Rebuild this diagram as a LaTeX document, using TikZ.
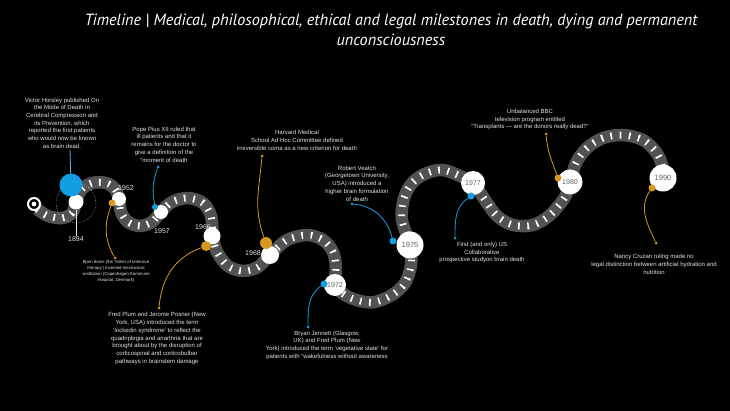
\documentclass[tikz,border=0pt]{standalone}
\usepackage{fontspec}
\setmainfont{Liberation Sans}
\newfontfamily\titlefont{PT Sans}
\usetikzlibrary{positioning}
\definecolor{MarkBlue}{RGB}{18,158,226}
\definecolor{MarkGold}{RGB}{214,152,30}
\definecolor{RoadGray}{RGB}{82,82,82}
\definecolor{NoteGray}{RGB}{228,228,228}
\definecolor{YearGray}{RGB}{96,96,96}
\tikzset{
  road/.style={line width=12.5pt,RoadGray,line join=round,
    postaction={draw=white,line width=7pt,dash pattern=on 1.7pt off 7.6pt}},
  yearcirc/.style={circle,fill=white,inner sep=0pt,text=YearGray,
    font=\fontsize{7}{8}\selectfont},
  yearlabel/.style={text=NoteGray,inner sep=0pt,font=\fontsize{7}{8}\selectfont},
  note/.style={text=NoteGray,align=center,inner sep=0pt,
    font=\fontsize{6}{7.7}\selectfont},
  bluedot/.style={circle,fill=MarkBlue,inner sep=0pt,minimum size=7pt},
  golddot/.style={circle,fill=MarkGold,inner sep=0pt,minimum size=7pt},
  bluetip/.style={circle,fill=MarkBlue,inner sep=0pt,minimum size=3pt},
  goldtip/.style={circle,fill=MarkGold,inner sep=0pt,minimum size=3pt},
  blueline/.style={MarkBlue,line width=0.8pt},
  goldline/.style={MarkGold,line width=0.8pt}
}
\begin{document}
\begin{tikzpicture}[x=1pt,y=1pt]
  \fill[black] (0,0) rectangle (730,-411);
  \useasboundingbox (0,0) rectangle (730,-411);

  \node[text=white,align=center,font=\titlefont\itshape\fontsize{16.2}{20}\selectfont]
    (title) at (391,-30) {Timeline | Medical, philosophical, ethical and legal milestones in death, dying and permanent\\unconsciousness};

  % the winding road
  \draw[road] plot[smooth,tension=0.55] coordinates {
    (37,-209) (48,-216) (62,-218) (72,-213) (76,-202) (81,-190) (92,-183)
    (106,-183) (115,-189) (119,-199) (121,-212) (128,-222) (140,-226)
    (152,-222) (161,-212) (172,-202) (188,-198) (203,-203) (211,-216)
    (213,-237) (217,-252) (228,-266) (243,-271) (258,-267) (270,-255)
    (287,-240) (307,-235) (323,-240) (333,-252) (336,-268) (335,-285)
    (345,-295) (360,-301) (375,-302) (392,-295) (405,-283) (411,-265)
    (410,-245) (402,-220) (404,-198) (413,-182) (427,-173) (443,-170)
    (460,-176) (473,-183) (485,-200) (497,-216) (513,-225) (533,-225)
    (550,-215) (565,-197) (570,-182) (576,-163) (587,-148) (603,-138)
    (623,-135) (643,-140) (656,-152) (662,-165) (663,-178)};

  % start marker
  \node[circle,draw=white,line width=2pt,fill=black,minimum size=12pt,inner sep=0pt]
    (start) at (34,-204) {};
  \fill[white] (start.center) circle (2.4);

  % years
  \draw[white!70!gray,line width=0.5pt,dash pattern=on 0.6pt off 1.6pt]
    (76,-203) circle (20);
  \node[yearcirc,minimum size=15pt] (y1894) at (76,-202) {};
  \node[yearcirc,minimum size=14pt] (y1952) at (119,-199) {};
  \node[yearcirc,minimum size=14pt] (y1957) at (161,-212) {};
  \node[yearcirc,minimum size=17pt] (y1966) at (212,-236) {};
  \node[yearcirc,minimum size=18pt] (y1968) at (270,-255) {};
  \node[yearcirc,minimum size=22pt] (y1972) at (335,-285) {1972};
  \node[yearcirc,minimum size=27pt,font=\fontsize{7.5}{8}\selectfont] (y1975) at (410,-245) {1975};
  \node[yearcirc,minimum size=24pt] (y1977) at (473,-183) {1977};
  \node[yearcirc,minimum size=25pt] (y1980) at (570,-182) {1980};
  \node[yearcirc,minimum size=27pt,font=\fontsize{7.5}{8}\selectfont] (y1990) at (663,-178) {1990};

  \node[yearlabel] (lab1894) at (76,-239) {1894};
  \node[yearlabel] (lab1952) at (126,-188) {1952};
  \node[yearlabel] (lab1957) at (162,-231) {1957};
  \node[yearlabel] (lab1966) at (203,-227) {1966};
  \node[yearlabel] (lab1968) at (253,-253) {1968};
  \draw[white!80!gray,line width=0.7pt] (y1894) -- (lab1894);

  % 1894
  \node[circle,fill=MarkBlue,inner sep=0pt,minimum size=23pt] (hors) at (71,-185) {};
  \node[note] (txtHors) at (62,-123) {Victor Horsley published On\\the Mode of Death in\\Cerebral Compression and\\its Prevention, which\\reported the first patients\\who would now be known\\as brain dead.};
  \coordinate (horsTop) at (70,-150);
  \draw[blueline,MarkBlue!70!white] (hors) -- (horsTop);

  % 1952
  \node[golddot] (d52) at (112,-203) {};
  \node[goldtip] (e52) at (115,-258) {};
  \node[note,font=\fontsize{4.3}{5.8}\selectfont] (txt52) at (116,-271.5)
    {Bjorn Ibsen (the `father of intensive\\therapy') invented mechanical\\ventilation (Copenhagen Kommune\\Hospital, Denmark)};
  \draw[goldline] (d52) to[out=250,in=120] (e52);

  % 1957
  \node[bluedot,minimum size=6pt] (d57) at (155,-207) {};
  \node[bluetip] (e57) at (158,-167) {};
  \node[note] (txt57) at (164,-144.5) {Pope Pius XII ruled that\\ill patients and that it\\remains for the doctor to\\give a definition of the\\``moment of death};
  \draw[blueline] (d57) to[out=100,in=250] (e57);

  % 1966
  \node[golddot,minimum size=10pt] (d66) at (206,-246) {};
  \node[goldtip] (e66) at (159,-308) {};
  \node[note] (txt66) at (157,-338.5) {Fred Plum and Jerome Posner (New\\York, USA) introduced the term\\`lockedin syndrome' to reflect the\\quadriplegia and anarthria that are\\brought about by the disruption of\\corticospinal and corticobulbar\\pathways in brainstem damage};
  \draw[goldline] (d66) to[out=200,in=85] (e66);

  % 1968
  \node[golddot,minimum size=12pt] (d68) at (266,-243) {};
  \node[goldtip] (e68) at (262,-156) {};
  \node[note] (txt68) at (297,-140.5) {Harvard Medical\\School Ad Hoc Committee defined\\irreversible coma as a new criterion for death};
  \draw[goldline] (d68) to[out=110,in=265] (e68);

  % 1972
  \node[bluedot] (d72) at (324,-284) {};
  \node[bluetip] (e72) at (308,-327) {};
  \node[note] (txt72) at (327,-345) {Bryan Jennett (Glasgow,\\UK) and Fred Plum (New\\York) introduced the term `vegetative state' for\\patients with ``wakefulness without awareness};
  \draw[blueline] (d72) to[out=215,in=90] (e72);

  % 1975
  \node[bluedot] (d75) at (393,-241) {};
  \node[bluetip] (e75) at (352,-204) {};
  \node[note] (txt75) at (357,-183.5) {Robert Veatch\\(Georgetown University,\\USA) introduced a\\higher brain formulation\\of death};
  \draw[blueline] (d75) to[out=105,in=-5] (e75);

  % 1977
  \node[bluedot] (d77) at (471,-196) {};
  \node[bluetip] (e77) at (455,-238) {};
  \node[note] (txt77) at (482,-252.5) {First (and only) US\\Collaborative\\prospective studyon brain death};
  \draw[blueline] (d77) to[out=215,in=90] (e77);

  % 1980
  \node[golddot] (d80) at (558,-178) {};
  \node[goldtip] (e80) at (546,-134) {};
  \node[note] (txt80) at (530,-119.5) {Unbalanced BBC\\television program entitled\\``Transplants --- are the donors really dead?''};
  \draw[goldline] (d80) to[out=110,in=275] (e80);

  % 1990
  \node[golddot] (d90) at (652,-188) {};
  \node[goldtip] (e90) at (656,-243) {};
  \node[note] (txt90) at (654,-264.5) {Nancy Cruzan ruling made no\\legal distinction between artificial hydration and\\nutrition};
  \draw[goldline] (d90) to[out=235,in=115] (e90);
\end{tikzpicture}
\end{document}
